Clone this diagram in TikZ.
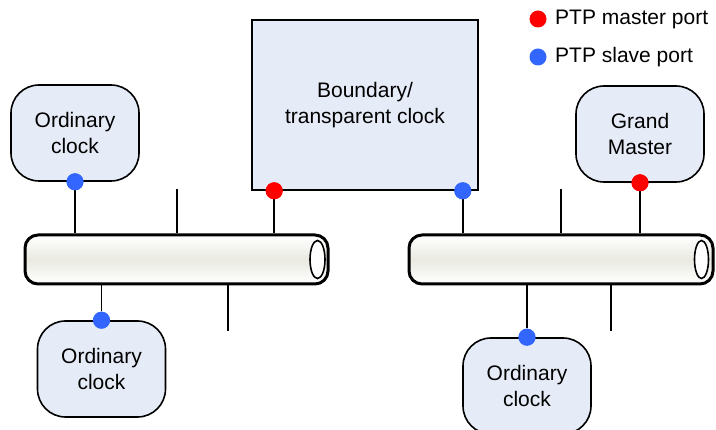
\documentclass[tikz,border=0pt]{standalone}
\usepackage{fontspec}
\setmainfont{Liberation Sans}
\usepackage{xcolor}
\usepackage{tikz}
\usetikzlibrary{shapes.geometric, positioning}

\definecolor{clockfill}{HTML}{E6ECF7}
\definecolor{masterred}{HTML}{FF0000}
\definecolor{slaveblue}{HTML}{3366FF}
\definecolor{pipegrey}{HTML}{EAEAE2}

\begin{document}
\begin{tikzpicture}[x=1pt, y=-1pt, font=\fontsize{21}{25.5}\selectfont]
			\tikzstyle{clock} = [rectangle, rounded corners=28, minimum width=128, minimum height=96, text centered, align=center, draw=black, line width=1.6, fill=clockfill]
			
			\tikzstyle{boundary} = [rectangle, minimum width=226, minimum height=170, align=center, draw=black, line width=1.6, fill=clockfill]
			
			\tikzstyle{pipe} = [rectangle, rounded corners=13, minimum height=49, draw=black, line width=3, top color=white, bottom color=white, middle color=pipegrey]
			
			\tikzstyle{master} = [circle, fill=masterred, minimum size=17, inner sep=0]
			\tikzstyle{slave} = [circle, fill=slaveblue, minimum size=17, inner sep=0]
			
			\tikzstyle{tap} = [draw=black, line width=1.6]
			
			\useasboundingbox (0,0) rectangle (716,430);
			
			% The two LAN segments
			\node (lanA) [pipe, minimum width=303] at (176.5,259.5) {};
			\node (lanB) [pipe, minimum width=304] at (561,259.5) {};
			\draw [line width=1.6, fill=white] ([xshift=-12]lanA.east) ellipse (7.5 and 19);
			\draw [line width=1.6, fill=white] ([xshift=-13]lanB.east) ellipse (7 and 19);
			
			% Clocks
			\node (ocA) [clock] at (75,133) {Ordinary\\clock};
			\node (ocB) [clock] at (101.5,369) {Ordinary\\clock};
			\node (bc) [boundary] at (365,105) {Boundary/\\transparent clock};
			\node (gm) [clock] at (640,134) {Grand\\Master};
			\node (ocC) [clock] at (527,386) {Ordinary\\clock};
			
			% Ports
			\node (ocAp) [slave] at (ocA.south) {};
			\node (ocBp) [slave] at (ocB.north) {};
			\node (bcm) [master] at ([xshift=23]bc.south west) {};
			\node (bcs) [slave] at ([xshift=-16]bc.south east) {};
			\node (gmp) [master] at (gm.south) {};
			\node (ocCp) [slave] at (ocC.north) {};
			
			% Free ends of the unused taps
			\coordinate (stubA) at (177,189);
			\coordinate (stubB) at (228,331);
			\coordinate (stubC) at (561,189);
			\coordinate (stubD) at (611,331);
			
			% Taps
			\draw [tap] (ocAp) -- (ocAp |- lanA.north);
			\draw [tap] (ocBp) -- (ocBp |- lanA.south);
			\draw [tap] (bcm) -- (bcm |- lanA.north);
			\draw [tap] (stubA) -- (stubA |- lanA.north);
			\draw [tap] (stubB) -- (stubB |- lanA.south);
			\draw [tap] (bcs) -- (bcs |- lanB.north);
			\draw [tap] (gmp) -- (gmp |- lanB.north);
			\draw [tap] (ocCp) -- (ocCp |- lanB.south);
			\draw [tap] (stubC) -- (stubC |- lanB.north);
			\draw [tap] (stubD) -- (stubD |- lanB.south);
			
			% Redraw ports over the taps
			\foreach \p/\s in {ocAp/slave, ocBp/slave, bcm/master, bcs/slave, gmp/master, ocCp/slave}
				\node [\s] at (\p) {};
			
			% Legend
			\node (keyM) [master] at (538,19) {};
			\node (keyS) [slave] at (538,57) {};
			\node [right=5 of keyM] {PTP master port};
			\node [right=5 of keyS] {PTP slave port};
		\end{tikzpicture}
\end{document}
